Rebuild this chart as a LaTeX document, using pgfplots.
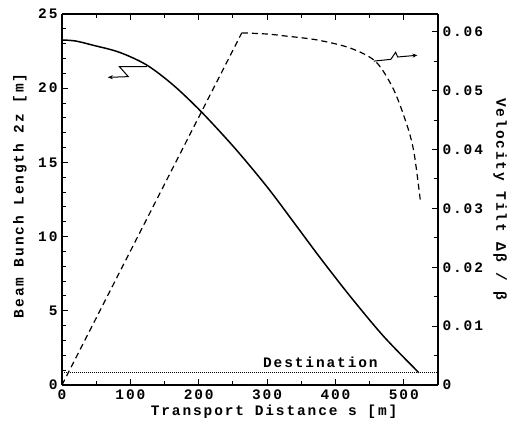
\documentclass[border=0pt]{standalone}
\usepackage{pgfplots}
\pgfplotsset{compat=1.18}
\usepackage{fontspec}
\setmainfont{Liberation Mono}[LetterSpace=13]
\usetikzlibrary{arrows.meta}

% bunch length 2z [m] versus transport distance s [m]
\pgfplotstableread{
s     L
0     23.25
20    23.18
45    22.90
84    22.42
124   21.56
163   20.20
204   18.40
253   15.95
300   13.35
340   10.90
378   8.55
422   5.95
471   3.25
522   0.83
}\lengthtab

% velocity tilt versus transport distance, after the ramp
\pgfplotstableread{
s     V
263   0.0598
300   0.0596
324   0.0593
373   0.0586
422   0.0572
459   0.0549
485   0.0502
505   0.0440
515   0.0394
524   0.0315
}\tilttab

\pgfplotsset{
  common/.style={
    scale only axis, width=376pt, height=371pt,
    xmin=0, xmax=550,
    tick align=inside,
    major tick length=6pt, minor tick length=4pt,
    every tick/.style={black, line width=1pt},
    axis line style={line width=1.3pt},
    scaled ticks=false,
    /pgf/number format/assume math mode=true,
    tick label style={font=\fontsize{14.5}{14.5}\selectfont\bfseries},
    label style={font=\fontsize{14.5}{14.5}\selectfont\bfseries},
  },
}

\begin{document}
\begin{tikzpicture}
\begin{axis}[common, name=main,
  ymin=0, ymax=25,
  ytick={0,5,10,15,20,25},
  minor ytick={1,2,3,4,6,7,8,9,11,12,13,14,16,17,18,19,21,22,23,24},
  xtick={0,100,200,300,400,500},
  minor xtick={50,150,250,350,450,550},
  axis y line*=left,
  xtick pos=both,
  yticklabel style={xshift=-1pt},
  xticklabel style={yshift=-1pt},
  xlabel={Transport Distance s [m]},
  ylabel={Beam Bunch Length 2z [m]},
  xlabel style={at={(axis description cs:0.564,-0.072)}, anchor=center},
  ylabel style={at={(axis description cs:-0.112,0.51)}, anchor=center},
]
  \addplot[black, line width=1.5pt, smooth, tension=0.5] table[x=s, y=L] {\lengthtab};
  \addplot[black, densely dotted, line width=1pt] coordinates {(0,0.81) (550,0.81)};
  \node[font=\fontsize{14.5}{14.5}\selectfont\bfseries] at (axis cs:378,1.55) {Destination};
  % pointer to the left-hand scale
  \addplot[black, line width=1pt, -{Stealth[length=5pt,width=4pt]}]
    coordinates {(124,21.45) (84,21.45) (97,20.78) (67,20.73)};
\end{axis}

\begin{axis}[common,
  ymin=0, ymax=0.063,
  ytick={0,0.01,0.02,0.03,0.04,0.05,0.06},
  yticklabels={0,0.01,0.02,0.03,0.04,0.05,0.06},
  minor ytick={0.005,0.015,0.025,0.035,0.045,0.055},
  axis y line*=right,
  axis x line=none,
  yticklabel style={xshift=1pt},
  ylabel={Velocity Tilt Δβ / β},
  ylabel style={at={(axis description cs:1.165,0.5)}, anchor=center, rotate=180},
]
  \addplot[black, line width=1.2pt, dash pattern=on 6pt off 4pt] coordinates {(0,0) (263,0.0598)};
  \addplot[black, line width=1.2pt, dash pattern=on 6pt off 4pt, smooth, tension=0.5]
    table[x=s, y=V] {\tilttab};
  % pointer to the right-hand scale
  \addplot[black, line width=1pt, -{Stealth[length=5pt,width=4pt]}]
    coordinates {(456,0.0550) (481,0.0553) (488,0.0565) (491,0.0557) (520,0.0560)};
\end{axis}
% fixed page frame around the plot and its labels
\pgfresetboundingbox
\path ([xshift=-62pt,yshift=-44pt]main.south west) rectangle ([xshift=75pt,yshift=14pt]main.north east);
\end{tikzpicture}
\end{document}
